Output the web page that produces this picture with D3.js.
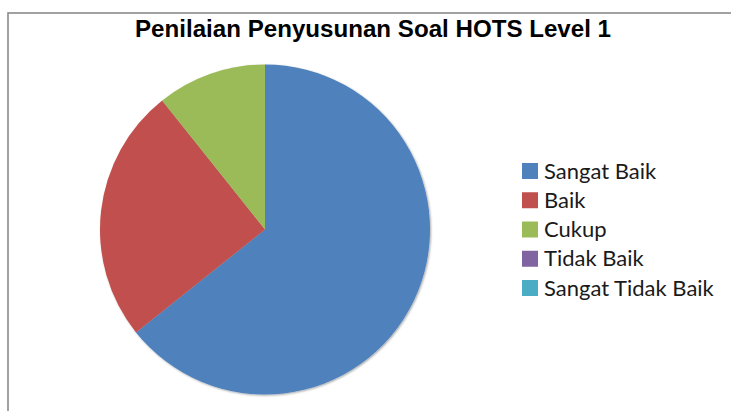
<!DOCTYPE html>
<html>
<head>
<meta charset="utf-8">
<script src="https://cdn.jsdelivr.net/npm/d3@7"></script>
<style>
html,body{margin:0;padding:0;background:#fff;}
svg{display:block;}
</style>
</head>
<body>
<script>
const categories = ["Sangat Baik", "Baik", "Cukup", "Tidak Baik", "Sangat Tidak Baik"];
const values = [18, 7, 3, 0, 0];
const colors = ["#4F81BD", "#C0504D", "#9BBB59", "#8064A2", "#4BACC6"];
const title = "Penilaian Penyusunan Soal HOTS Level 1";

const W = 731, H = 411;
const svg = d3.select("body").append("svg").attr("width", W).attr("height", H);

// chart border (only top and left visible)
svg.append("rect").attr("x", 8).attr("y", 13).attr("width", W + 20).attr("height", H + 20)
  .attr("fill", "#fff").attr("stroke", "#8a8a8a").attr("stroke-width", 1.6);

// title
svg.append("text").attr("x", 373).attr("y", 36.5).attr("text-anchor", "middle")
  .attr("font-family", "Liberation Sans, Arial, sans-serif").attr("font-weight", "bold")
  .attr("font-size", 23.5).attr("fill", "#000")
  .attr("textLength", 476).attr("lengthAdjust", "spacingAndGlyphs")
  .text(title);

// pie
const defs = svg.append("defs");
const f = defs.append("filter").attr("id", "sh").attr("x", "-10%").attr("y", "-10%").attr("width", "120%").attr("height", "120%");
f.append("feGaussianBlur").attr("in", "SourceAlpha").attr("stdDeviation", 1.2);
f.append("feOffset").attr("dx", 0.6).attr("dy", 1.2).attr("result", "b");
f.append("feComponentTransfer").append("feFuncA").attr("type", "linear").attr("slope", 0.35);
const m = f.append("feMerge");
m.append("feMergeNode");
m.append("feMergeNode").attr("in", "SourceGraphic");

const cx = 265, cy = 229.5, r = 165;
const pie = d3.pie().sort(null).value(d => d)(values);
const arc = d3.arc().innerRadius(0).outerRadius(r);
const g = svg.append("g").attr("transform", `translate(${cx},${cy})`).attr("filter", "url(#sh)");
g.selectAll("path").data(pie).join("path")
  .attr("d", arc)
  .attr("fill", (d, i) => colors[i]);

// legend
const lg = svg.append("g").attr("transform", "translate(522,0)");
const rowY = d3.scalePoint().domain(categories).range([170.5, 287.5]);
const items = lg.selectAll("g").data(categories).join("g")
  .attr("transform", d => `translate(0,${rowY(d)})`);
items.append("rect").attr("x", 0).attr("y", -7.5).attr("width", 16).attr("height", 16)
  .attr("fill", (d, i) => colors[i]);
items.append("text").attr("x", 22).attr("y", 8)
  .attr("font-family", "Lato, Carlito, Calibri, sans-serif").attr("font-size", 22)
  .attr("fill", "#1a1a1a").text(d => d);
</script>
</body>
</html>
